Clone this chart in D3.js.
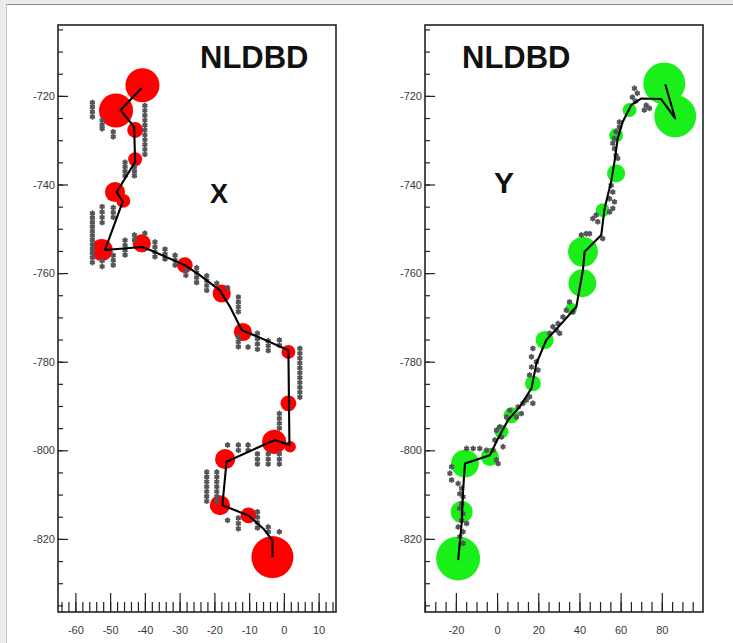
<!DOCTYPE html>
<html>
<head>
<meta charset="utf-8">
<script src="https://cdn.jsdelivr.net/npm/d3@7"></script>
<style>
  body { margin: 0; background: #fff; }
  svg { display: block; }
  .tick text { font-family: "Liberation Sans", Arial, sans-serif; font-size: 11px; fill: #3a3a3a; }
  .label { font-family: "Liberation Sans", Arial, sans-serif; font-weight: bold; fill: #111; }
</style>
</head>
<body>
<svg id="chart" width="733" height="643"></svg>
<script>
// vertical axis (z) shared by both views
const zDomain = [-836.5, -704];
const zTicks = [-720, -740, -760, -780, -800, -820];

// X view
const xDomainX = [-65, 15];
const xTicksX = [-60, -50, -40, -30, -20, -10, 0, 10];
const trackX = [
  [-40.9, -718.2], [-47.0, -723.2], [-43.1, -727.0], [-42.8, -734.9], [-48.1, -741.7],
  [-46.4, -743.9], [-51.5, -754.8], [-40.9, -754.1], [-38.5, -754.8], [-28.5, -758.2],
  [-24.1, -760.5], [-18.4, -763.9], [-15.5, -767.6], [-12.1, -772.9], [-7.4, -774.4],
  [1.3, -777.4], [1.6, -798.8], [-2.6, -797.7], [-5.9, -798.8], [-16.5, -802.6],
  [-17.7, -812.4], [-10.2, -814.7], [-5.9, -817.7], [-3.3, -820.3], [-3.3, -824.1]
];
// [x, z, energy]
const depositsX = [
  [-40.7, -717.6, 60], [-48.3, -723.3, 60], [-42.8, -727.7, 13], [-42.8, -734.3, 10],
  [-48.6, -741.7, 21], [-46.2, -743.7, 10], [-52.4, -754.8, 25], [-40.9, -753.3, 17],
  [-28.5, -758.2, 13], [-17.9, -764.6, 17], [-11.8, -773.3, 17], [1.3, -777.8, 10],
  [1.3, -789.4, 13], [-2.8, -798.1, 30], [1.8, -799.2, 7], [-16.9, -802.0, 21],
  [-18.4, -812.4, 21], [-10.2, -814.7, 13], [-3.3, -824.1, 91]
];
// hit columns: [x, [z ...]]
const hitColumnsX = [
  [-55.1, [-721.5, -722.5, -723.6, -724.7]],
  [-52.3, [-725.5, -726.5, -727.4]],
  [-49.1, [-728.1, -729.2]],
  [-40.0, [-722.2, -723.3, -724.4, -725.5, -726.6, -727.7, -728.8, -729.9, -731.0, -732.1, -733.2]],
  [-45.7, [-735.0, -736.0, -737.0, -738.0]],
  [-43.0, [-736.0, -737.0, -738.0]],
  [-55.1, [-746.5, -747.5, -748.5, -749.5, -750.5, -751.5, -752.5, -753.5, -754.5, -755.5, -756.5, -757.6]],
  [-52.3, [-745.0, -746.2, -747.4, -748.6, -757.2, -758.5]],
  [-49.1, [-745.2, -746.3, -747.4, -756.0, -757.1, -758.2]],
  [-45.7, [-752.6, -753.7, -754.8, -755.9]],
  [-43.0, [-751.4, -752.5]],
  [-40.0, [-751.0]],
  [-37.1, [-753.0, -754.1, -755.2, -756.3]],
  [-34.2, [-754.6, -755.7, -756.8]],
  [-31.3, [-756.0, -757.1, -758.2]],
  [-28.2, [-759.4, -760.5]],
  [-25.1, [-758.8, -759.9, -761.0, -762.1]],
  [-22.2, [-760.6, -761.7, -762.8, -763.9]],
  [-19.3, [-762.3]],
  [-16.2, [-763.3]],
  [-13.1, [-765.4, -766.5, -767.6, -768.7, -774.4, -775.5, -776.6]],
  [-10.3, [-776.7]],
  [-7.6, [-773.6, -774.8, -776.0, -777.2]],
  [-4.5, [-775.3, -776.4, -777.5]],
  [-1.3, [-775.1, -776.3, -791.7, -792.8, -793.9, -795.0]],
  [4.6, [-777.0, -778.1, -779.2, -780.3, -781.4, -782.5, -783.6, -784.7, -785.8, -786.9, -788.0]],
  [-16.2, [-798.8, -815.8]],
  [-13.1, [-798.8, -800.0, -815.3, -816.5, -817.7]],
  [-10.3, [-798.8, -800.0]],
  [-7.6, [-800.8, -802.0, -803.1, -813.9, -815.1, -816.3, -817.5]],
  [-4.5, [-800.8, -802.0, -803.1, -817.3, -818.4]],
  [-1.3, [-800.8, -802.0, -803.1, -818.4]],
  [-22.2, [-804.9, -806.0, -807.1, -808.2, -809.3, -810.4, -811.5]],
  [-19.3, [-804.9, -806.0, -807.1, -808.2, -809.3, -810.4, -811.5]]
];

// Y view
const xDomainY = [-35, 100];
const xTicksY = [-20, 0, 20, 40, 60, 80];
const trackY = [
  [81.7, -717.4], [86.5, -725.1], [79.6, -720.7], [69.9, -720.6], [65.1, -722.1],
  [61.0, -725.9], [58.6, -729.6], [57.0, -734.9], [55.4, -739.4], [52.2, -745.4],
  [50.6, -751.4], [42.5, -755.2], [41.7, -759.3], [38.5, -767.6], [32.0, -771.0],
  [23.9, -775.1], [19.1, -780.4], [16.7, -786.0], [11.0, -790.2], [5.3, -793.2],
  [0.5, -797.3], [-3.5, -801.1], [-15.6, -803.0], [-16.5, -809.0], [-17.2, -816.5],
  [-18.9, -824.8]
];
const depositsY = [
  [81.2, -717.2, 91], [86.5, -724.6, 91], [64.3, -723.2, 10], [57.8, -728.9, 10],
  [57.8, -737.5, 17], [51.3, -745.8, 10], [41.7, -755.2, 46], [41.4, -762.3, 40],
  [36.0, -768.0, 7], [23.1, -775.1, 17], [17.4, -784.9, 13], [7.0, -792.1, 13],
  [2.1, -795.8, 10], [-3.5, -801.5, 17], [-15.6, -803.0, 40], [-17.2, -813.9, 25],
  [-18.9, -824.4, 100]
];
const hitsY = [
  [66.7, -718.3], [68.1, -719.4], [65.7, -720.3], [67.2, -721.2], [72.4, -722.1],
  [74.0, -722.8], [71.5, -723.2], [59.4, -725.9], [59.4, -727.0], [57.8, -728.1],
  [57.0, -729.6], [56.2, -730.7], [57.0, -731.9], [57.8, -733.4], [58.6, -734.1],
  [55.4, -740.2], [56.2, -741.7], [54.6, -743.2], [57.0, -743.9], [56.2, -745.4],
  [48.1, -746.9], [46.5, -747.7], [48.9, -748.4], [54.6, -746.2], [40.9, -751.4],
  [43.3, -751.1], [51.3, -752.2], [44.9, -751.1], [35.2, -766.5], [33.6, -768.4],
  [36.8, -768.8], [32.0, -769.9], [29.6, -771.4], [27.1, -772.1], [28.8, -772.9],
  [25.5, -773.6], [30.4, -773.6], [17.4, -777.0], [16.7, -778.9], [19.1, -780.0],
  [16.7, -781.2], [19.9, -781.9], [15.8, -783.0], [15.8, -787.9], [14.2, -788.7],
  [12.6, -789.4], [17.4, -789.4], [10.2, -790.2], [11.8, -791.7], [9.4, -792.5],
  [6.2, -791.0], [4.6, -792.5], [1.3, -794.7], [-0.3, -795.5], [2.1, -797.0],
  [-1.1, -797.7], [2.9, -799.2], [-14.8, -799.6], [-11.6, -799.6], [-8.4, -799.6],
  [-5.1, -800.0], [-1.9, -800.0], [-0.3, -802.2], [0.5, -803.0], [-22.1, -803.7],
  [-22.9, -805.2], [-22.1, -806.7], [-18.9, -807.5], [-17.2, -808.6], [-18.1, -809.8],
  [-16.5, -810.5], [-17.2, -812.0], [-18.1, -813.1], [-16.5, -814.3], [-17.2, -815.8],
  [-18.9, -817.3], [-16.5, -818.4], [-14.8, -816.5], [-18.1, -819.5], [-16.5, -821.0]
];

const hitsX = hitColumnsX.flatMap(([x, zs]) => zs.map(z => [x, z]));

const panels = [
  { x0: 58, x1: 336, xDomain: xDomainX, xTicks: xTicksX, minorStep: 2,
    track: trackX, deposits: depositsX, hits: hitsX, fill: "#ff0000",
    title: { x: 200, y: 68 }, view: { text: "X", x: 210, y: 203, size: 27 } },
  { x0: 425, x1: 703, xDomain: xDomainY, xTicks: xTicksY, minorStep: 5,
    track: trackY, deposits: depositsY, hits: hitsY, fill: "#1aef1a",
    title: { x: 462, y: 68 }, view: { text: "Y", x: 494, y: 193, size: 30 } }
];

const svg = d3.select("#chart");
const plotTop = 25, plotBottom = 612;

// window frame of the screenshot
svg.append("rect").attr("x", 0).attr("y", 0).attr("width", 7).attr("height", 643).attr("fill", "#ececec");
svg.append("rect").attr("x", 0).attr("y", 0).attr("width", 733).attr("height", 4).attr("fill", "#ececec");
svg.append("line").attr("x1", 7).attr("x2", 733).attr("y1", 4.5).attr("y2", 4.5).attr("stroke", "#8a8a8a");
svg.append("line").attr("x1", 6.5).attr("x2", 6.5).attr("y1", 4).attr("y2", 643).attr("stroke", "#c8c8c8");

const rScale = d3.scaleSqrt().domain([0, 100]).range([0, 22]);
const hitSymbol = d3.symbol().type(d3.symbolAsterisk).size(11);

panels.forEach(p => {
  const x = d3.scaleLinear().domain(p.xDomain).range([p.x0, p.x1]);
  const z = d3.scaleLinear().domain(zDomain).range([plotBottom, plotTop]);
  const g = svg.append("g");

  g.append("rect")
    .attr("x", p.x0).attr("y", plotTop)
    .attr("width", p.x1 - p.x0).attr("height", plotBottom - plotTop)
    .attr("fill", "#fff");

  // energy deposits
  g.append("g").selectAll("circle")
    .data(p.deposits)
    .join("circle")
    .attr("cx", d => x(d[0]))
    .attr("cy", d => z(d[1]))
    .attr("r", d => rScale(d[2]))
    .attr("fill", p.fill);

  // hits
  g.append("g").selectAll("path")
    .data(p.hits)
    .join("path")
    .attr("transform", d => `translate(${x(d[0])},${z(d[1])})`)
    .attr("d", hitSymbol)
    .attr("fill", "none")
    .attr("stroke", "#555559")
    .attr("stroke-width", 2)
    .attr("stroke-linecap", "round");

  // reconstructed track
  g.append("path")
    .datum(p.track)
    .attr("d", d3.line().x(d => x(d[0])).y(d => z(d[1])))
    .attr("fill", "none")
    .attr("stroke", "#000")
    .attr("stroke-width", 2.1)
    .attr("stroke-linejoin", "round");

  // axes, ticks pointing inwards
  const fmt = d => String(d);
  g.append("g").attr("transform", `translate(${p.x0},0)`)
    .call(d3.axisLeft(z).tickValues(d3.range(-835, -704, 5)).tickSize(-5).tickFormat(""))
    .call(a => a.select(".domain").remove());
  g.append("g").attr("transform", `translate(${p.x0},0)`)
    .call(d3.axisLeft(z).tickValues(zTicks).tickSize(-10).tickPadding(3).tickFormat(fmt))
    .call(a => a.select(".domain").remove());

  const minorX = d3.range(Math.ceil(p.xDomain[0] / p.minorStep) * p.minorStep, p.xDomain[1], p.minorStep);
  g.append("g").attr("transform", `translate(0,${plotBottom})`)
    .call(d3.axisBottom(x).tickValues(minorX).tickSize(-10).tickFormat(""))
    .call(a => a.select(".domain").remove());
  g.append("g").attr("transform", `translate(0,${plotBottom})`)
    .call(d3.axisBottom(x).tickValues(p.xTicks).tickSize(-19).tickPadding(14).tickFormat(fmt))
    .call(a => a.select(".domain").remove());

  g.selectAll(".tick line").attr("stroke", "#222").attr("stroke-width", 1.2);

  g.append("rect")
    .attr("x", p.x0).attr("y", plotTop)
    .attr("width", p.x1 - p.x0).attr("height", plotBottom - plotTop)
    .attr("fill", "none")
    .attr("stroke", "#222")
    .attr("stroke-width", 1.6);

  g.append("text").attr("class", "label")
    .attr("x", p.title.x).attr("y", p.title.y)
    .attr("font-size", 31)
    .text("NLDBD");

  g.append("text").attr("class", "label")
    .attr("x", p.view.x).attr("y", p.view.y)
    .attr("font-size", p.view.size)
    .text(p.view.text);
});
</script>
</body>
</html>
